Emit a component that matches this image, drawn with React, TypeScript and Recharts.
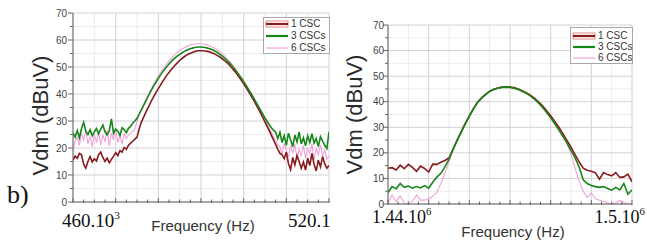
import React from 'react'
import { LineChart, Line, XAxis, YAxis, CartesianGrid } from 'recharts'

// ─── Sweep A: 460 kHz → 520 kHz, 0.5 kHz step ───────────────────────────────
const SWEEP_A_START = 460
const SWEEP_A_STEP = 0.5

const CSC1_A = [
  15.5, 17, 16.2, 18, 17.5, 14, 12.5, 15, 16.8, 14.8, 16, 15.2, 17.5, 18.5, 16.5,
  15, 16.2, 14.5, 15.8, 17, 18.3, 17.2, 19, 18.5, 20.2, 19.5, 21, 21.8, 22.5, 23.3,
  24, 27, 29.5, 31.2, 33, 34.6, 36.2, 37.8, 39.3, 40.7, 42, 43.3, 44.6, 45.8, 47,
  48, 49, 49.9, 50.8, 51.6, 52.4, 53.1, 53.7, 54.3, 54.7, 55.1, 55.4, 55.7, 55.9, 56,
  56, 56, 55.9, 55.8, 55.6, 55.3, 55, 54.6, 54.1, 53.6, 53, 52.4, 51.7, 51, 50.1,
  49.2, 48.2, 47.2, 46.1, 45, 43.8, 42.6, 41.3, 40, 38.7, 37.3, 35.8, 34.3, 32.8, 31.2,
  29.6, 28, 26.4, 24.7, 23, 21.3, 19.5, 18,
  17.5, 16, 18.5, 14.2, 12, 16.5, 13.8, 17.2, 15, 12.5, 14.8, 11.8, 16.2, 13.5, 18,
  14, 11.5, 15.5, 13, 16.8, 14.2, 12.5, 13.5,
]
const CSC3_A = [
  25.5, 24, 26.5, 23.8, 27.2, 29.5, 26.2, 25, 26.8, 24.5, 26, 27.2, 25.3, 27, 28.5,
  26, 24.8, 26.3, 30.8, 25.5, 27, 26.2, 24.6, 27.5, 26.8, 25.7, 27.3, 28, 29.2,
  30, 31, 32.5, 34, 35.6, 37.2, 38.8, 40.3, 41.8, 43.2, 44.5, 45.8, 47, 48.1, 49.2,
  50.2, 51.1, 52, 52.8, 53.5, 54.1, 54.7, 55.2, 55.7, 56.1, 56.5, 56.8, 57, 57.2, 57.3,
  57.4, 57.4, 57.3, 57.2, 57, 56.8, 56.5, 56.1, 55.7, 55.2, 54.6, 54, 53.3, 52.6, 51.8,
  50.9, 50, 49, 48, 46.9, 45.8, 44.6, 43.4, 42.1, 40.8, 39.5, 38.1, 36.7, 35.3, 33.9,
  32.5, 31.1, 29.8, 28.6, 27.5, 26.6, 25.8,
  23.5, 25.8, 22, 24.6, 21, 25.5, 23, 20.5, 24.8, 22.3, 26, 21.5, 23.8, 20.8, 24.5,
  22, 25.3, 21.8, 23.5, 20.5, 24.2, 22.5, 21, 19.8, 26,
]
const CSC6_A = [
  19, 22.5, 24, 21, 25.5, 23, 26.5, 21.5, 24.2, 20.5, 25, 22, 26, 21.2, 24.8,
  22.5, 26.8, 20.8, 25.5, 23, 27, 22, 24.5, 21.5, 25.2, 23.5, 24.8, 25.5, 26,
  27, 30, 32.5, 34.3, 36, 37.7, 39.3, 40.9, 42.4, 43.9, 45.3, 46.6, 47.9, 49.1, 50.2,
  51.3, 52.3, 53.2, 54, 54.8, 55.5, 56.1, 56.6, 57.1, 57.5, 57.9, 58.2, 58.4, 58.5, 58.6,
  58.6, 58.6, 58.5, 58.3, 58.1, 57.8, 57.5, 57.1, 56.6, 56.1, 55.5, 54.8, 54.1, 53.3, 52.4,
  51.5, 50.5, 49.4, 48.3, 47.1, 45.9, 44.6, 43.3, 41.9, 40.5, 39.1, 37.7, 36.2, 34.7, 33.2,
  31.7, 30.2, 28.7, 27.3, 25.8, 24.3, 22.8, 21,
  20.5, 17.5, 21.8, 19, 16.5, 20.8, 18, 21.5, 15.8, 19.5, 17, 21, 16.2, 19.8, 18,
  21.5, 15.5, 20, 17.5, 21.2, 16.8, 19.5, 15.8, 17,
]

// ─── Sweep B: 1440 kHz → 1500 kHz, 1 kHz step ───────────────────────────────
const SWEEP_B_START = 1440
const SWEEP_B_STEP = 1

const CSC1_B = [
  14, 14.2, 13.3, 15.2, 13.8, 15.5, 14.3, 12.8, 14.8, 13.9, 12.5, 15.6, 15.5, 16.3, 17, 18,
  21.5, 25, 28.3, 31.5, 34.5, 37.3, 39.8, 41.5, 42.9, 44.1, 44.9, 45.4, 45.7, 45.8, 45.7,
  45.5, 45, 44.3, 43.5, 42.6, 41.4, 40, 38.4, 36.5, 34.5, 32.3, 30, 27.5, 24.9, 22.2,
  19.3, 16.5, 14, 13.2, 12.8, 12.2, 9.7, 12.3, 11.5, 11, 12.3, 10.4, 10.6, 11.7, 8.7,
]
const CSC3_B = [
  4.4, 6.8, 6, 8, 6.5, 7, 6.2, 6.8, 6.3, 7.2, 6.2, 8.5, 10.5, 12, 14.5, 17.5,
  21.3, 24.8, 28.1, 31.3, 34.3, 37.1, 39.6, 41.4, 42.8, 44, 44.8, 45.3, 45.6, 45.7, 45.6,
  45.3, 44.8, 44.1, 43.3, 42.3, 41, 39.5, 37.8, 35.8, 33.7, 31.4, 29, 26.5, 23.8, 21, 18,
  14.5, 9.5, 8, 7.2, 6.8, 6.5, 6.8, 6.1, 5.4, 6.5, 5.5, 8, 3.8, 5.5,
]
const CSC6_B = [
  0.5, 3.5, 1, 3.2, 0.3, 0.2, 1, 3.5, 1.5, 1.5, 2, 3, 4.5, 8, 12, 16.5,
  21.3, 24.8, 28.1, 31.3, 34.3, 37.1, 39.6, 41.4, 42.8, 44, 44.8, 45.3, 45.6, 45.7, 45.6,
  45.3, 44.8, 44.1, 43.3, 42.3, 41, 39.5, 37.8, 35.8, 33.7, 31.4, 29, 26.5, 23.8,
  19.5, 14, 9, 5, 2.5, 4.3, 2, 1.5, 1, 0.5, 0, 0.5, 1.5, 0.5, 0.2, 0,
]

// ─── Axes ───────────────────────────────────────────────────────────────────
const LEVEL_TICKS = [0, 5, 10, 15, 20, 25, 30, 35, 40, 45, 50, 55, 60, 65, 70]
const LEVEL_GRID_MAJOR = [0, 10, 20, 30, 40, 50, 60, 70]
const LEVEL_GRID_MINOR = [5, 15, 25, 35, 45, 55, 65]

const FREQ_A_TICKS = [
  460, 462.5, 465, 467.5, 470, 472.5, 475, 477.5, 480, 482.5, 485, 487.5, 490,
  492.5, 495, 497.5, 500, 502.5, 505, 507.5, 510, 512.5, 515, 517.5, 520,
]
const FREQ_A_GRID_MAJOR = [460, 470, 480, 490, 500, 510, 520]
const FREQ_A_GRID_MINOR = [465, 475, 485, 495, 505, 515]
const FREQ_A_LABELS = [
  { at: 460, base: '460.10', exp: '3' },
  { at: 520, base: '520.10', exp: '3' },
]

const FREQ_B_TICKS = [
  1440, 1442.5, 1445, 1447.5, 1450, 1452.5, 1455, 1457.5, 1460, 1462.5, 1465, 1467.5, 1470,
  1472.5, 1475, 1477.5, 1480, 1482.5, 1485, 1487.5, 1490, 1492.5, 1495, 1497.5, 1500,
]
const FREQ_B_GRID_MAJOR = [1440, 1450, 1460, 1470, 1480, 1490, 1500]
const FREQ_B_GRID_MINOR = [1445, 1455, 1465, 1475, 1485, 1495]
const FREQ_B_LABELS = [
  { at: 1440, base: '1.44.10', exp: '6' },
  { at: 1500, base: '1.5.10', exp: '6' },
]

// legend order / draw order
const SERIES = [
  { key: 'csc1', name: '1 CSC', color: '#861a1d', width: 1.6 },
  { key: 'csc3', name: '3 CSCs', color: '#16861a', width: 1.6 },
  { key: 'csc6', name: '6 CSCs', color: '#f0a2d8', width: 1.1 },
]
const DRAW_ORDER = ['csc6', 'csc1', 'csc3']

const SANS = '"Liberation Sans", Arial, sans-serif'
const SERIF = '"Liberation Serif", "Times New Roman", serif'

function buildRows(start: number, step: number, a: number[], b: number[], c: number[]) {
  return a.map((v, i) => ({ f: start + i * step, csc1: v, csc3: b[i], csc6: c[i] }))
}

const ROWS_A = buildRows(SWEEP_A_START, SWEEP_A_STEP, CSC1_A, CSC3_A, CSC6_A)
const ROWS_B = buildRows(SWEEP_B_START, SWEEP_B_STEP, CSC1_B, CSC3_B, CSC6_B)

// ─── Ticks ──────────────────────────────────────────────────────────────────
function FreqTick(props: any) {
  const { x, y, payload, labels, majors, firstDx, lastDx, labelY, fontSize } = props
  const v = payload.value
  const isMajor = majors.some((m: number) => Math.abs(m - v) < 1e-6)
  const lab = labels.find((l: any) => Math.abs(l.at - v) < 1e-6)
  const isFirst = lab && lab === labels[0]
  return (
    <g>
      <line x1={x} x2={x} y1={y + 1} y2={y - (isMajor ? 4 : 2.5)} stroke="#666" strokeWidth={1} />
      {lab && (
        <text
          x={x + (isFirst ? firstDx : lastDx)}
          y={y + labelY}
          textAnchor={isFirst ? 'start' : 'end'}
          fontFamily={SERIF}
          fontSize={fontSize}
          fill="#111"
        >
          {lab.base}
          <tspan dy={-fontSize * 0.42} fontSize={fontSize * 0.6}>{lab.exp}</tspan>
        </text>
      )}
    </g>
  )
}

function LevelTick(props: any) {
  const { x, y, payload, gap } = props
  const v = payload.value
  const major = v % 10 === 0
  return (
    <g>
      <line x1={x - (major ? 5 : 3)} x2={x} y1={y} y2={y} stroke="#666" strokeWidth={1} />
      {major && (
        <text x={x - gap} y={y} dy="0.35em" textAnchor="end" fontFamily={SANS} fontSize={10} fill="#444">
          {v}
        </text>
      )}
    </g>
  )
}

// ─── Legend ─────────────────────────────────────────────────────────────────
function LegendBox({ left, top, width, height, padTop, rowH }: any) {
  return (
    <div
      style={{
        position: 'absolute', left, top, width, height, boxSizing: 'border-box',
        border: '1px solid #a8a8a8', background: '#fff', fontFamily: SANS, fontSize: 10, color: '#333',
      }}
    >
      {SERIES.map((s, i) => (
        <div
          key={s.key}
          style={{
            position: 'absolute', left: 1, top: padTop + i * rowH, height: rowH,
            display: 'flex', alignItems: 'center', whiteSpace: 'nowrap',
          }}
        >
          <svg width={24} height={8} style={{ marginRight: 2, flexShrink: 0 }}>
            {s.key === 'csc1' && <rect x={1} y={1} width={22} height={6} fill="none" stroke="#e48a8a" strokeWidth={1} />}
            <line x1={1} x2={23} y1={4} y2={4} stroke={s.color} strokeWidth={s.key === 'csc6' ? 1.2 : 2.2} />
          </svg>
          <span style={{ lineHeight: `${rowH}px` }}>{s.name}</span>
        </div>
      ))}
    </div>
  )
}

// ─── Panel ──────────────────────────────────────────────────────────────────
function Panel(p: any) {
  return (
    <div style={{ position: 'absolute', left: p.left, top: 0, width: p.width, height: 249, overflow: 'hidden' }}>
      <LineChart width={p.width} height={249} data={p.rows} margin={{ top: p.top, right: p.right, left: 0, bottom: 0 }}>
        <CartesianGrid stroke="#ececec" verticalValues={p.gridMinorX} horizontalValues={LEVEL_GRID_MINOR} />
        <CartesianGrid stroke="#d2d2d2" verticalValues={p.gridMajorX} horizontalValues={LEVEL_GRID_MAJOR} />
        <XAxis
          dataKey="f"
          type="number"
          domain={p.domain}
          ticks={p.ticks}
          interval={0}
          height={p.axisH}
          tickSize={0}
          tickMargin={0}
          tickLine={false}
          axisLine={{ stroke: '#666' }}
          allowDataOverflow
          tick={(t: any) => (
            <FreqTick
              {...t}
              labels={p.labels}
              majors={p.gridMajorX}
              firstDx={p.firstDx}
              lastDx={p.lastDx}
              labelY={p.labelY}
              fontSize={p.labelSize}
            />
          )}
          label={(l: any) => {
            const vb = l.viewBox
            return (
              <text
                x={vb.x + vb.width / 2 + p.xTitleDx}
                y={vb.y + p.xTitleY}
                textAnchor="middle"
                fontFamily={SANS}
                fontSize={15}
                fill="#333"
              >
                Frequency (Hz)
              </text>
            )
          }}
        />
        <YAxis
          type="number"
          domain={[0, 70]}
          ticks={LEVEL_TICKS}
          interval={0}
          width={p.axisW}
          tickSize={0}
          tickMargin={0}
          tickLine={false}
          axisLine={{ stroke: '#666' }}
          tick={(t: any) => <LevelTick {...t} gap={p.tickGap} />}
          label={(l: any) => {
            const vb = l.viewBox
            const cx = p.yTitleX
            const cy = vb.y + vb.height / 2 + p.yTitleDy
            return (
              <text
                x={cx}
                y={cy}
                transform={`rotate(-90 ${cx} ${cy})`}
                textAnchor="middle"
                dominantBaseline="central"
                fontFamily={SANS}
                fontSize={22}
                fill="#2a2a2a"
              >
                Vdm (dBuV)
              </text>
            )
          }}
        />
        {DRAW_ORDER.map(k => {
          const s = SERIES.find(x => x.key === k)!
          return (
            <Line
              key={k}
              type="linear"
              dataKey={k}
              stroke={s.color}
              strokeWidth={s.width}
              dot={false}
              activeDot={false}
              isAnimationActive={false}
            />
          )
        })}
      </LineChart>
    </div>
  )
}

export default function App() {
  return (
    <div style={{ position: 'absolute', left: 0, top: 0, width: 647, height: 249, background: '#fff', overflow: 'hidden' }}>
      <Panel
        left={0}
        width={330}
        rows={ROWS_A}
        top={13}
        right={1}
        axisW={73}
        axisH={47}
        domain={[460, 520]}
        ticks={FREQ_A_TICKS}
        gridMajorX={FREQ_A_GRID_MAJOR}
        gridMinorX={FREQ_A_GRID_MINOR}
        labels={FREQ_A_LABELS}
        firstDx={-11}
        lastDx={17}
        labelY={25}
        labelSize={19}
        xTitleDx={2}
        xTitleY={29}
        yTitleX={40}
        yTitleDy={8}
        tickGap={6}
      />
      <Panel
        left={330}
        width={317}
        rows={ROWS_B}
        top={25}
        right={15}
        axisW={58}
        axisH={45}
        domain={[1440, 1500]}
        ticks={FREQ_B_TICKS}
        gridMajorX={FREQ_B_GRID_MAJOR}
        gridMinorX={FREQ_B_GRID_MINOR}
        labels={FREQ_B_LABELS}
        firstDx={-16}
        lastDx={13}
        labelY={19}
        labelSize={18}
        xTitleDx={3}
        xTitleY={33}
        yTitleX={24}
        yTitleDy={0}
        tickGap={4}
      />
      <LegendBox left={263} top={17} width={67} height={37} padTop={0} rowH={12} />
      <LegendBox left={570} top={27} width={63} height={37} padTop={2} rowH={11} />
      <svg style={{ position: 'absolute', left: 0, top: 0 }} width={40} height={249}>
        <text x={7} y={203} fontFamily={SERIF} fontSize={26} fill="#111">b)</text>
      </svg>
    </div>
  )
}
